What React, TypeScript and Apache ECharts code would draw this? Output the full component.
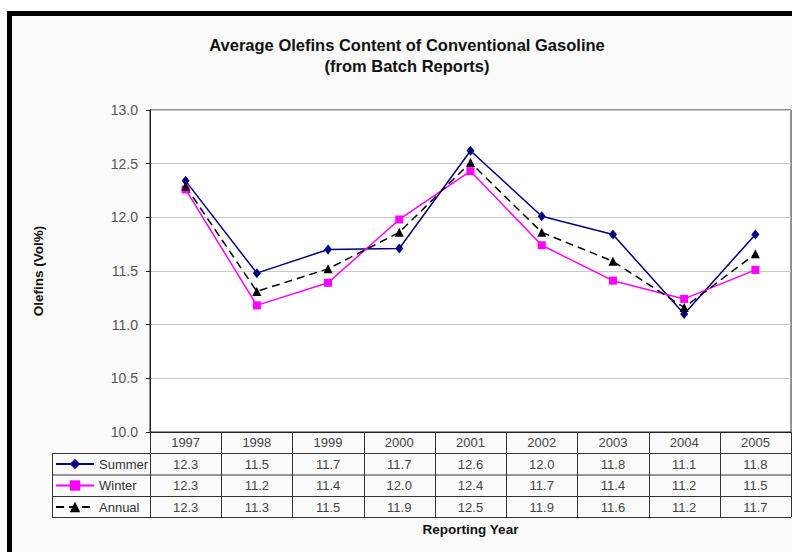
import React, { useEffect, useRef } from "react";
import * as echarts from "echarts";

const years = ["1997", "1998", "1999", "2000", "2001", "2002", "2003", "2004", "2005"];
const summer = [12.34, 11.48, 11.7, 11.71, 12.62, 12.01, 11.84, 11.1, 11.84];
const winter = [12.26, 11.18, 11.39, 11.98, 12.43, 11.74, 11.41, 11.24, 11.51];
const annual = [12.29, 11.31, 11.52, 11.86, 12.51, 11.86, 11.59, 11.16, 11.66];
const seriesNames = ["Summer", "Winter", "Annual"];
const yMin = 10;
const yMax = 13;
const yStep = 0.5;

const FONT = "Liberation Sans, Arial, sans-serif";
const W = 792;
const H = 552;
const L = 150;
const R = 791;
const T = 110;
const B = 432;
const ROWS = [432, 453.5, 475, 496.5, 517.5];
const TABLE_LEFT = 52;

export default function App() {
  const ref = useRef<HTMLDivElement>(null);
  useEffect(() => {
    if (!ref.current) return;
    const chart = echarts.init(ref.current, undefined, { renderer: "svg" });
    const colW = (R - L) / years.length;
    const values = [summer, winter, annual];
    const graphic: any[] = [];
    graphic.push({
      type: "rect",
      z: -10,
      shape: { x: 9.5, y: 13.5, width: 900, height: 700 },
      style: { fill: "#fafafa", stroke: "#000", lineWidth: 5 },
      silent: true,
    });
    graphic.push({
      type: "text",
      x: 407,
      y: 45,
      style: {
        text: "Average Olefins Content of Conventional Gasoline",
        font: `bold 16.5px ${FONT}`,
        fill: "#111",
        textAlign: "center",
        textVerticalAlign: "middle",
      },
    });
    graphic.push({
      type: "text",
      x: 407,
      y: 66,
      style: {
        text: "(from Batch Reports)",
        font: `bold 16.5px ${FONT}`,
        fill: "#111",
        textAlign: "center",
        textVerticalAlign: "middle",
      },
    });
    const lineStyle = { stroke: "#333", lineWidth: 1 };
    for (let r = 1; r < ROWS.length; r++) {
      graphic.push({
        type: "line",
        z: 10,
        shape: { x1: TABLE_LEFT, y1: ROWS[r], x2: R, y2: ROWS[r] },
        style: lineStyle,
        silent: true,
      });
    }
    for (let k = 0; k <= years.length; k++) {
      const x = Math.round(L + k * colW) + 0.5;
      graphic.push({
        type: "line",
        z: 10,
        shape: { x1: x, y1: ROWS[0], x2: x, y2: ROWS[ROWS.length - 1] },
        style: lineStyle,
        silent: true,
      });
    }
    graphic.push({
      type: "line",
      z: 10,
      shape: { x1: TABLE_LEFT + 0.5, y1: ROWS[1], x2: TABLE_LEFT + 0.5, y2: ROWS[ROWS.length - 1] },
      style: lineStyle,
      silent: true,
    });
    years.forEach((yr, i) => {
      const cx = L + (i + 0.5) * colW;
      graphic.push({
        type: "text",
        z: 10,
        x: cx,
        y: (ROWS[0] + ROWS[1]) / 2,
        style: {
          text: yr,
          font: `13px ${FONT}`,
          fill: "#444",
          textAlign: "center",
          textVerticalAlign: "middle",
        },
      });
      values.forEach((arr, s) => {
        graphic.push({
          type: "text",
          z: 10,
          x: cx,
          y: (ROWS[s + 1] + ROWS[s + 2]) / 2,
          style: {
            text: arr[i].toFixed(1),
            font: `13px ${FONT}`,
            fill: "#444",
            textAlign: "center",
            textVerticalAlign: "middle",
          },
        });
      });
    });

    chart.setOption({
      animation: false,
      backgroundColor: "#ffffff",
      grid: {
        left: L,
        right: W - R,
        top: T,
        bottom: H - B,
        show: true,
        backgroundColor: "#ffffff",
        borderColor: "#222",
        borderWidth: 1,
      },
      legend: {
        orient: "vertical",
        left: 55,
        top: 457.5,
        itemWidth: 38,
        itemHeight: 13,
        itemGap: 8.5,
        padding: 0,
        selectedMode: false,
        data: seriesNames,
        textStyle: { fontSize: 13, color: "#333", fontFamily: FONT },
      },
      xAxis: {
        type: "category",
        data: years,
        boundaryGap: true,
        axisLine: { lineStyle: { color: "#222" } },
        axisTick: { show: false },
        axisLabel: { show: false },
        name: "Reporting Year",
        nameLocation: "middle",
        nameGap: 90,
        nameTextStyle: { fontSize: 13.5, fontWeight: "bold", color: "#111", fontFamily: FONT },
      },
      yAxis: {
        type: "value",
        min: yMin,
        max: yMax,
        interval: yStep,
        axisLine: { show: true, lineStyle: { color: "#222" } },
        axisTick: { show: true, inside: false, length: 4, lineStyle: { color: "#222" } },
        axisLabel: {
          formatter: (v: number) => v.toFixed(1),
          fontSize: 14,
          color: "#555",
          fontFamily: FONT,
          margin: 12,
        },
        splitLine: { lineStyle: { color: "#c8c8c8" } },
        name: "Olefins (Vol%)",
        nameLocation: "middle",
        nameRotate: 90,
        nameGap: 105,
        nameTextStyle: { fontSize: 13.5, fontWeight: "bold", color: "#111", fontFamily: FONT },
      },
      series: [
        {
          name: "Summer",
          type: "line",
          data: summer,
          symbol: "diamond",
          symbolSize: [8, 10],
          color: "#000080",
          lineStyle: { color: "#000080", width: 1.5 },
          itemStyle: { color: "#000080" },
        },
        {
          name: "Winter",
          type: "line",
          data: winter,
          symbol: "rect",
          symbolSize: 8,
          color: "#ff00ff",
          lineStyle: { color: "#ff00ff", width: 1.5 },
          itemStyle: { color: "#ff00ff" },
        },
        {
          name: "Annual",
          type: "line",
          data: annual,
          symbol: "triangle",
          symbolSize: [9, 9],
          color: "#000",
          lineStyle: { color: "#000", width: 1.5, type: [8, 5] },
          itemStyle: { color: "#000" },
        },
      ],
      graphic,
    });
    return () => chart.dispose();
  }, []);
  return (
    <div
      ref={ref}
      style={{ position: "fixed", left: 0, top: 0, width: W, height: H }}
    />
  );
}
